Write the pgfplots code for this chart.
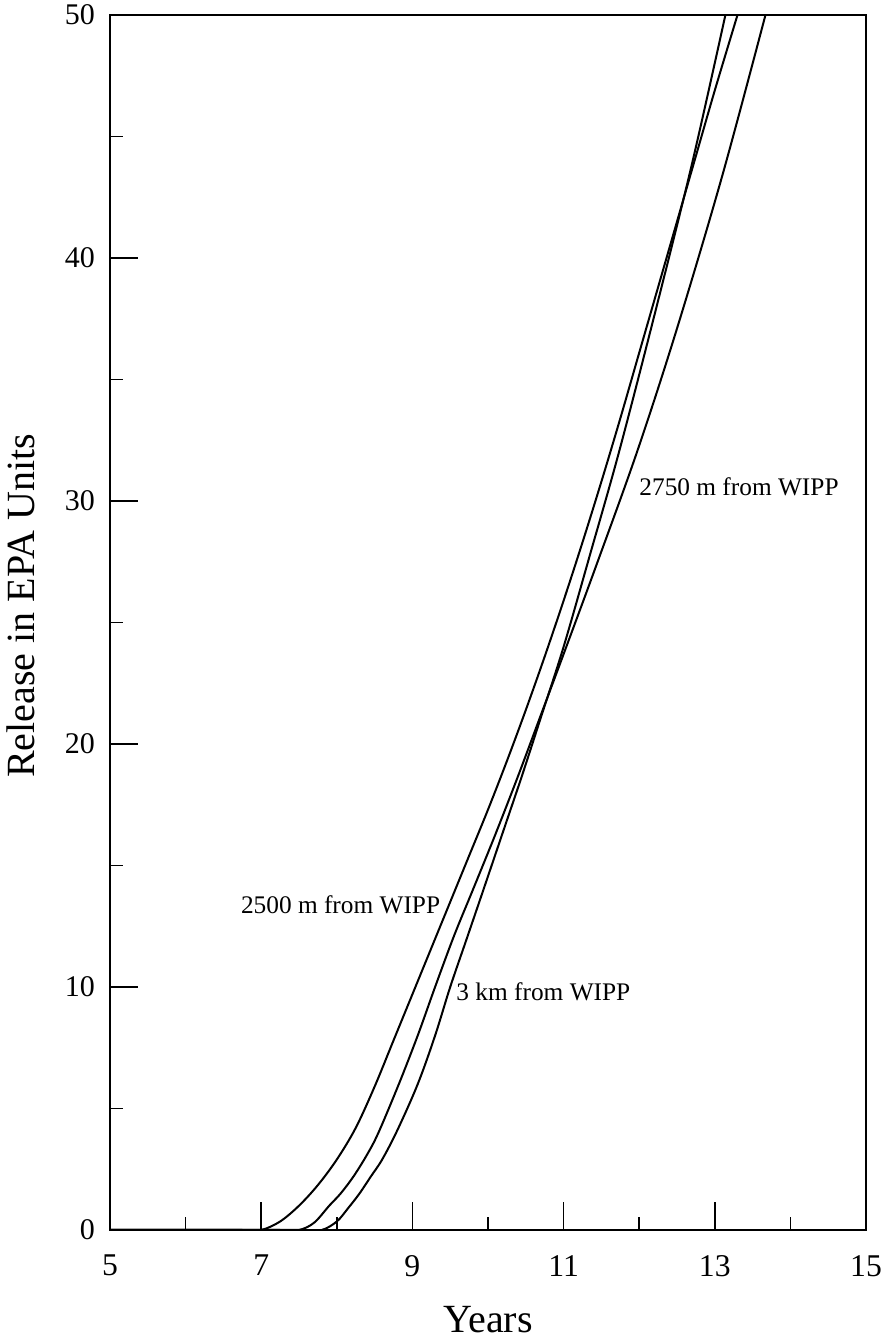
\documentclass[border=0pt]{standalone}
\usepackage{fontspec}
\setmainfont{Liberation Serif}
\usepackage{pgfplots}
\pgfplotsset{compat=1.18}

\begin{document}
\begin{tikzpicture}
\begin{axis}[
    scale only axis,
    width=226.8pt, height=364.5pt,
    xmin=5, xmax=15, ymin=0, ymax=50,
    xtick={5,7,...,15}, minor xtick={6,8,...,14},
    ytick={0,10,...,50}, minor ytick={5,15,...,45},
    xtick pos=bottom, ytick pos=left,
    tick align=inside,
    major tick length=8.4pt, minor tick length=4pt,
    axis line style={line width=0.6pt},
    every tick/.style={black, line width=0.5pt},
    tick label style={font=\fontsize{9}{10}\selectfont},
    xticklabel style={font=\fontsize{9.5}{10}\selectfont},
    /pgf/number format/assume math mode=true,
    xticklabel style={yshift=-4pt},
    yticklabel style={xshift=-1pt},
    xlabel={Years},
    ylabel={Release in EPA Units},
    label style={font=\fontsize{12}{14}\selectfont},
    xlabel style={yshift=-2pt},
    ylabel style={yshift=2pt, xshift=5pt},
    clip=true,
]

% 2500 m from WIPP
\addplot[black, line width=0.6pt, smooth, tension=0.55] coordinates {
    (5,0) (6,0) (6.5,0) (6.75,0) (7.0,0) (7.25,0.35) (7.5,1.0) (7.75,1.85)
    (8.0,2.9) (8.25,4.2) (8.5,5.9) (8.75,7.8) (9.0,9.7) (9.25,11.6)
    (9.5,13.5) (9.75,15.4) (10.0,17.3) (10.25,19.3) (10.5,21.4)
    (10.75,23.6) (11.0,25.9) (11.25,28.3) (11.5,30.8) (11.75,33.4)
    (12.0,36.1) (12.25,38.8) (12.5,41.5) (12.75,44.2) (13.0,46.9) (13.3,50)
};

% 2750 m from WIPP
\addplot[black, line width=0.6pt, smooth, tension=0.55] coordinates {
    (5,0) (6,0) (6.75,0) (7.0,0) (7.25,0) (7.5,0) (7.7,0.3) (7.9,1.0)
    (8.05,1.5) (8.22,2.2) (8.4,3.1) (8.55,4.0) (8.82,6.0) (9.07,8.0)
    (9.3,10.0) (9.55,12.1) (9.8,14.0) (10.1,16.3) (10.4,18.7) (10.7,21.2)
    (11.0,23.7) (11.45,27.5) (11.98,32.1) (12.5,37.1) (13.1,43.4) (13.67,50)
};

% 3 km from WIPP
\addplot[black, line width=0.6pt, smooth, tension=0.55] coordinates {
    (5,0) (6,0) (7.0,0) (7.3,0) (7.55,0) (7.8,0) (8.0,0.35) (8.15,0.9)
    (8.3,1.5) (8.45,2.2) (8.6,2.9) (8.8,4.1) (9.07,6.0) (9.3,8.0)
    (9.5,10.0) (9.72,12.0) (9.95,14.1) (10.2,16.4) (10.45,18.7) (10.7,21.1)
    (11.0,24.0) (11.35,27.8) (11.74,32.1) (12.23,38.0) (12.7,43.9) (13.14,50)
};

\node[anchor=east, font=\fontsize{7.6}{9}\selectfont, inner sep=1pt] at (axis cs:9.42,13.4) {2500 m from WIPP};
\node[anchor=west, font=\fontsize{7.6}{9}\selectfont, inner sep=1pt] at (axis cs:11.95,30.6) {2750 m from WIPP};
\node[anchor=west, font=\fontsize{7.6}{9}\selectfont, inner sep=1pt] at (axis cs:9.53,9.8) {3 km from WIPP};

\coordinate (BL) at (rel axis cs:0,0);
\coordinate (TR) at (rel axis cs:1,1);
\end{axis}
\pgfresetboundingbox
\path ([shift={(-33pt,-32.7pt)}]BL) rectangle ([shift={(7.5pt,4.5pt)}]TR);
\end{tikzpicture}
\end{document}
